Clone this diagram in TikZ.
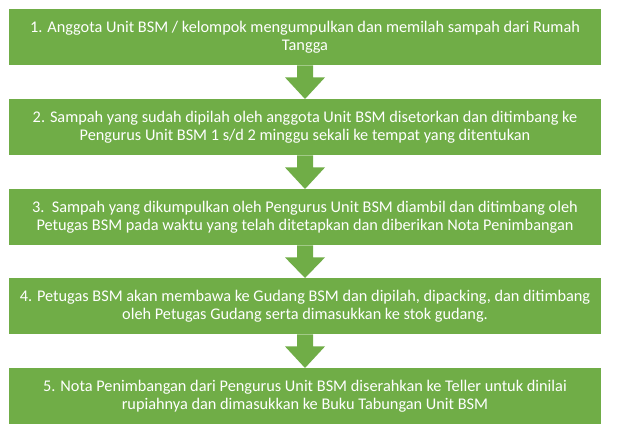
\documentclass[tikz,border=0pt]{standalone}
\usepackage{fontspec}
\setmainfont{Carlito}
\usetikzlibrary{calc}
\definecolor{boxgreen}{HTML}{70AD47}
\begin{document}
\begin{tikzpicture}[x=1pt,y=-1pt,
  stepbox/.style={fill=boxgreen, draw=none, minimum width=592pt, minimum height=56pt, inner sep=0pt,
    text=white, align=center, font=\fontsize{16.3}{17.4}\selectfont, anchor=north},
  flowarrow/.style={fill=boxgreen, draw=none}]
\useasboundingbox (0,0) rectangle (617,445);
\node[stepbox] (b1) at (305,9) {1. Anggota Unit BSM / kelompok mengumpulkan dan memilah sampah dari Rumah\\Tangga};
\node[stepbox] (b2) at (305,99) {2. Sampah yang sudah dipilah oleh anggota Unit BSM disetorkan dan ditimbang ke\\Pengurus Unit BSM 1 s/d 2 minggu sekali ke tempat yang ditentukan};
\node[stepbox] (b3) at (305,189) {3.\ \ Sampah yang dikumpulkan oleh Pengurus Unit BSM diambil dan ditimbang oleh\\Petugas BSM pada waktu yang telah ditetapkan dan diberikan Nota Penimbangan};
\node[stepbox] (b4) at (305,278) {4. Petugas BSM akan membawa ke Gudang BSM dan dipilah, dipacking, dan ditimbang\\oleh Petugas Gudang serta dimasukkan ke stok gudang.};
\node[stepbox] (b5) at (305,368) {5. Nota Penimbangan dari Pengurus Unit BSM diserahkan ke Teller untuk dinilai\\rupiahnya dan dimasukkan ke Buku Tabungan Unit BSM};
\foreach \a/\b in {b1/b2,b2/b3,b3/b4,b4/b5}{
  \fill[flowarrow] ($(\a.south)+(-8,0)$) -- ++(0,12) -- ++(-12,0) -- (\b.north) -- ($(\a.south)+(20,12)$) -- ++(-12,0) -- ++(0,-12) -- cycle;
}
\end{tikzpicture}
\end{document}
